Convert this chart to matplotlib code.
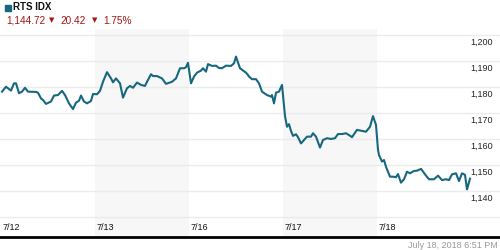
import matplotlib
matplotlib.use("Agg")
import matplotlib.pyplot as plt
from matplotlib.patches import Rectangle

# sample index (94 samples per trading day) and index level
steps = [1, 5, 10, 13, 15, 18, 21, 24, 27, 35, 37, 40, 42, 45, 50, 53, 57, 61, 64, 68,
         72, 75, 78, 80, 83, 86, 90, 92, 96, 99, 102, 106, 110, 112, 115, 119, 122, 126, 129, 132,
         136, 140, 144, 146, 150, 152, 156, 161, 165, 171, 175, 179, 183, 185, 187, 190, 193, 196, 200, 202,
         205, 207, 211, 215, 218, 221, 225, 230, 233, 235, 239, 245, 247, 248, 251, 255, 258, 261, 266, 270,
         271, 273, 275, 278, 281, 284, 286, 288, 290, 292, 295, 297, 300, 303, 306, 310, 312, 315, 319, 322,
         326, 330, 334, 337, 341, 345, 348, 351, 356, 361, 365, 369, 372, 375, 377, 378, 381, 383, 385, 389,
         392, 395, 397, 400, 403, 406, 409, 413, 416, 420, 425, 428, 433, 437, 441, 445, 448, 451, 455, 458,
         461, 464, 466, 469]
rts = [1178.2, 1180.1, 1178.6, 1181.4, 1181.4, 1177.6, 1178.2, 1179.7, 1178.2, 1178.1,
       1177.8, 1175.6, 1175.0, 1173.5, 1174.4, 1176.7, 1176.9, 1178.5, 1176.9, 1173.7,
       1171.5, 1174.0, 1174.7, 1176.7, 1174.4, 1173.7, 1174.6, 1177.3, 1177.2, 1178.5,
       1182.0, 1185.7, 1183.3, 1181.8, 1183.3, 1181.4, 1175.9, 1179.5, 1180.4, 1179.7,
       1181.7, 1180.8, 1180.4, 1182.0, 1184.9, 1184.2, 1184.2, 1183.3, 1181.2, 1182.0,
       1183.3, 1187.2, 1187.2, 1187.6, 1189.3, 1181.4, 1184.0, 1185.5, 1186.3, 1187.2,
       1185.9, 1188.8, 1188.1, 1188.2, 1187.3, 1187.2, 1188.2, 1188.1, 1189.1, 1191.7,
       1187.2, 1185.5, 1184.6, 1184.0, 1183.0, 1183.0, 1181.4, 1178.2, 1176.9, 1176.3,
       1176.9, 1173.7, 1177.8, 1178.2, 1180.8, 1168.8, 1164.7, 1165.7, 1163.1, 1161.2,
       1161.8, 1160.7, 1158.3, 1159.6, 1160.9, 1160.9, 1162.2, 1160.9, 1156.7, 1159.6,
       1160.3, 1160.0, 1160.3, 1161.9, 1161.9, 1162.2, 1161.5, 1160.7, 1163.5, 1163.1,
       1162.8, 1164.7, 1168.8, 1165.4, 1155.8, 1153.8, 1151.3, 1151.9, 1149.3, 1145.5,
       1145.5, 1145.3, 1146.5, 1143.2, 1144.5, 1147.4, 1146.8, 1147.7, 1147.8, 1148.5,
       1145.9, 1144.5, 1144.5, 1145.9, 1144.2, 1144.5, 1144.2, 1146.4, 1146.8, 1143.8,
       1146.8, 1146.2, 1140.6, 1144.72]

days = ["7/12", "7/13", "7/16", "7/17", "7/18"]
day_len = 94
y_ticks = [1130, 1140, 1150, 1160, 1170, 1180, 1190, 1200]
y_labels = ["", "1,140", "1,150", "1,160", "1,170", "1,180", "1,190", "1,200"]

line_color = "#17677f"
red = "#a31515"

plt.rcParams["font.family"] = ["Liberation Sans", "DejaVu Sans"]

fig = plt.figure(figsize=(5, 2.5), dpi=100)
ax = fig.add_axes([0, 13 / 250, 1, 208 / 250])
ax.set_xlim(-1, 499)
ax.set_ylim(1122.3, 1202.3)

# shaded alternate days
for i in range(len(days)):
    if i % 2 == 1:
        ax.axvspan(i * day_len, (i + 1) * day_len, color="#f7f7f7", lw=0, zorder=0)

for v, lab in zip(y_ticks, y_labels):
    ax.axhline(v, color="#ebebeb", lw=1, zorder=1)
    if lab:
        ax.annotate(lab, xy=(0.986, v), xycoords=("axes fraction", "data"),
                    xytext=(0, -3), textcoords="offset pixels",
                    ha="right", va="top", fontsize=6.5, color="#222222")

for i, d in enumerate(days):
    ax.text(i * day_len + 2, 10 / 208, d, transform=ax.get_xaxis_transform(),
            ha="left", va="center", fontsize=6.5, color="#111111")

ax.plot(steps, rts, color=line_color, lw=1.5, zorder=3, solid_joinstyle="round")

for s in ["left", "right", "top"]:
    ax.spines[s].set_visible(False)
ax.spines["bottom"].set_linewidth(2)
ax.spines["bottom"].set_color("black")
ax.set_xticks([])
ax.set_yticks([])

# header
fig.patches.append(Rectangle((5 / 500, 1 - 11 / 250), 6 / 500, 6 / 250,
                             transform=fig.transFigure, color=line_color))
fig.text(13 / 500, 1 - 7.5 / 250, "RTS IDX", fontsize=7, fontweight="bold",
         va="center", ha="left", color="#111111")
y2 = 1 - 20.5 / 250
fig.text(6 / 500, y2, "1,144.72", fontsize=7.2, va="center", color=red)
fig.text(49 / 500, y2, "\u25bc", fontsize=5, va="center", color=red, family="DejaVu Sans")
fig.text(60 / 500, y2, "20.42", fontsize=7.2, va="center", color=red)
fig.text(92 / 500, y2, "\u25bc", fontsize=5, va="center", color=red, family="DejaVu Sans")
fig.text(103 / 500, y2, "1.75%", fontsize=7.2, va="center", color=red)

fig.text(498 / 500, 1 - 245 / 250, "July 18, 2018 6:51 PM", fontsize=6.5,
         ha="right", va="center", color="#999999")

fig.savefig("out.png", dpi=100)
